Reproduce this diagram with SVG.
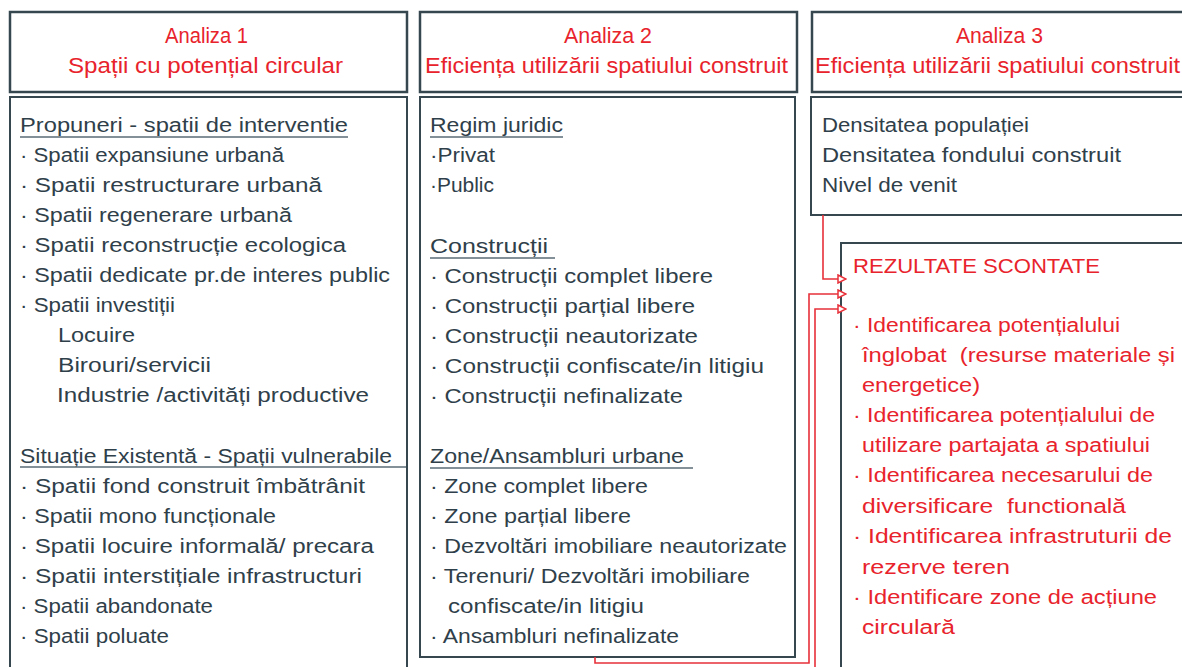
<svg xmlns="http://www.w3.org/2000/svg" width="1182" height="667" viewBox="0 0 1182 667">
<style>
.box{fill:#ffffff;stroke:#36474f;stroke-width:2}
.hbox{fill:#ffffff;stroke:#36474f;stroke-width:2.5}
.t{font-family:"Liberation Sans",Arial,sans-serif;font-size:20px;fill:#2f404a}
.h{font-family:"Liberation Sans",Arial,sans-serif;font-size:22px;fill:#e8232c}
.r{font-family:"Liberation Sans",Arial,sans-serif;font-size:20px;fill:#e8232c}
.ul{stroke:#5a6b75;stroke-width:1.5}
.con{fill:none;stroke:#e8303a;stroke-width:1.6}
</style>
<defs>
<marker id="arr" viewBox="0 0 10 10" refX="9" refY="5" markerWidth="10" markerHeight="10" markerUnits="userSpaceOnUse" orient="auto">
<path d="M1,1 L9,5 L1,9 Z" fill="#ffffff" stroke="#e8303a" stroke-width="1.5"/>
</marker>
</defs>
<rect width="1182" height="667" fill="#ffffff"/>

<g id="header1">
<rect class="hbox" x="10" y="12" width="397" height="80"/>
<text class="h" x="165" y="43" textLength="83" lengthAdjust="spacingAndGlyphs">Analiza 1</text>
<text class="h" x="68" y="73" textLength="275" lengthAdjust="spacingAndGlyphs">Spații cu potențial circular</text>
</g>
<g id="header2">
<rect class="hbox" x="420" y="12" width="377" height="80"/>
<text class="h" x="564" y="43" textLength="88" lengthAdjust="spacingAndGlyphs">Analiza 2</text>
<text class="h" x="425" y="73" textLength="363" lengthAdjust="spacingAndGlyphs">Eficiența utilizării spatiului construit</text>
</g>
<g id="header3">
<rect class="hbox" x="812" y="12" width="390" height="80"/>
<text class="h" x="956" y="43" textLength="87" lengthAdjust="spacingAndGlyphs">Analiza 3</text>
<text class="h" x="815" y="73" textLength="365" lengthAdjust="spacingAndGlyphs">Eficiența utilizării spatiului construit</text>
</g>

<g id="body1">
<rect class="box" x="10" y="97" width="397" height="600"/>
<text class="t" x="20" y="132" textLength="328" lengthAdjust="spacingAndGlyphs">Propuneri - spatii de interventie</text>
<line class="ul" x1="20" y1="137" x2="348" y2="137"/>
<text class="t" x="20" y="162" textLength="264" lengthAdjust="spacingAndGlyphs">· Spatii expansiune urbană</text>
<text class="t" x="20" y="192" textLength="302" lengthAdjust="spacingAndGlyphs">· Spatii restructurare urbană</text>
<text class="t" x="20" y="222" textLength="272" lengthAdjust="spacingAndGlyphs">· Spatii regenerare urbană</text>
<text class="t" x="20" y="252" textLength="326" lengthAdjust="spacingAndGlyphs">· Spatii reconstrucție ecologica</text>
<text class="t" x="20" y="282" textLength="370" lengthAdjust="spacingAndGlyphs">· Spatii dedicate pr.de interes public</text>
<text class="t" x="20" y="312" textLength="155" lengthAdjust="spacingAndGlyphs">· Spatii investiții</text>
<text class="t" x="58" y="342" textLength="77" lengthAdjust="spacingAndGlyphs">Locuire</text>
<text class="t" x="58" y="372" textLength="153" lengthAdjust="spacingAndGlyphs">Birouri/servicii</text>
<text class="t" x="57" y="402" textLength="312" lengthAdjust="spacingAndGlyphs">Industrie /activități productive</text>
<text class="t" x="20" y="463" textLength="372" lengthAdjust="spacingAndGlyphs">Situație Existentă - Spații vulnerabile</text>
<line class="ul" x1="20" y1="467" x2="406" y2="467"/>
<text class="t" x="20" y="493" textLength="345" lengthAdjust="spacingAndGlyphs">· Spatii fond construit îmbătrânit</text>
<text class="t" x="20" y="523" textLength="256" lengthAdjust="spacingAndGlyphs">· Spatii mono funcționale</text>
<text class="t" x="20" y="553" textLength="354" lengthAdjust="spacingAndGlyphs">· Spatii locuire informală/ precara</text>
<text class="t" x="20" y="583" textLength="342" lengthAdjust="spacingAndGlyphs">· Spatii interstițiale infrastructuri</text>
<text class="t" x="20" y="613" textLength="193" lengthAdjust="spacingAndGlyphs">· Spatii abandonate</text>
<text class="t" x="20" y="643" textLength="149" lengthAdjust="spacingAndGlyphs">· Spatii poluate</text>
</g>

<g id="body2">
<rect class="box" x="420" y="97" width="375" height="560"/>
<text class="t" x="430" y="132" textLength="133" lengthAdjust="spacingAndGlyphs">Regim juridic</text>
<line class="ul" x1="430" y1="137" x2="563" y2="137"/>
<text class="t" x="430" y="162" textLength="65" lengthAdjust="spacingAndGlyphs">·Privat</text>
<text class="t" x="430" y="192" textLength="64" lengthAdjust="spacingAndGlyphs">·Public</text>
<text class="t" x="430" y="253" textLength="118" lengthAdjust="spacingAndGlyphs">Construcții</text>
<line class="ul" x1="430" y1="258" x2="555" y2="258"/>
<text class="t" x="430" y="283" textLength="283" lengthAdjust="spacingAndGlyphs">· Construcții complet libere</text>
<text class="t" x="430" y="313" textLength="265" lengthAdjust="spacingAndGlyphs">· Construcții parțial libere</text>
<text class="t" x="430" y="343" textLength="268" lengthAdjust="spacingAndGlyphs">· Construcții neautorizate</text>
<text class="t" x="430" y="373" textLength="334" lengthAdjust="spacingAndGlyphs">· Construcții confiscate/in litigiu</text>
<text class="t" x="430" y="403" textLength="253" lengthAdjust="spacingAndGlyphs">· Construcții nefinalizate</text>
<text class="t" x="430" y="463" textLength="254" lengthAdjust="spacingAndGlyphs">Zone/Ansambluri urbane</text>
<line class="ul" x1="430" y1="468" x2="693" y2="468"/>
<text class="t" x="430" y="493" textLength="218" lengthAdjust="spacingAndGlyphs">· Zone complet libere</text>
<text class="t" x="430" y="523" textLength="201" lengthAdjust="spacingAndGlyphs">· Zone parțial libere</text>
<text class="t" x="430" y="553" textLength="357" lengthAdjust="spacingAndGlyphs">· Dezvoltări imobiliare neautorizate</text>
<text class="t" x="430" y="583" textLength="320" lengthAdjust="spacingAndGlyphs">· Terenuri/ Dezvoltări imobiliare</text>
<text class="t" x="448" y="613" textLength="196" lengthAdjust="spacingAndGlyphs">confiscate/in litigiu</text>
<text class="t" x="430" y="643" textLength="249" lengthAdjust="spacingAndGlyphs">· Ansambluri nefinalizate</text>
</g>

<g id="body3">
<rect class="box" x="811" y="97" width="390" height="118"/>
<text class="t" x="822" y="132" textLength="207" lengthAdjust="spacingAndGlyphs">Densitatea populației</text>
<text class="t" x="822" y="162" textLength="299" lengthAdjust="spacingAndGlyphs">Densitatea fondului construit</text>
<text class="t" x="822" y="192" textLength="135" lengthAdjust="spacingAndGlyphs">Nivel de venit</text>
</g>

<g id="rezultate">
<rect class="box" x="841" y="243" width="360" height="460"/>
<text class="r" x="853" y="273" textLength="247" lengthAdjust="spacingAndGlyphs">REZULTATE SCONTATE</text>
<text class="r" x="853" y="332" textLength="267" lengthAdjust="spacingAndGlyphs">· Identificarea potențialului</text>
<text class="r" x="862" y="362" textLength="313" lengthAdjust="spacingAndGlyphs" xml:space="preserve">înglobat  (resurse materiale și</text>
<text class="r" x="862" y="392" textLength="118" lengthAdjust="spacingAndGlyphs">energetice)</text>
<text class="r" x="853" y="422" textLength="302" lengthAdjust="spacingAndGlyphs">· Identificarea potențialului de</text>
<text class="r" x="862" y="452" textLength="288" lengthAdjust="spacingAndGlyphs">utilizare partajata a spatiului</text>
<text class="r" x="853" y="482" textLength="300" lengthAdjust="spacingAndGlyphs">· Identificarea necesarului de</text>
<text class="r" x="862" y="513" textLength="264" lengthAdjust="spacingAndGlyphs" xml:space="preserve">diversificare  functională</text>
<text class="r" x="853" y="543" textLength="319" lengthAdjust="spacingAndGlyphs">· Identificarea infrastruturii de</text>
<text class="r" x="862" y="574" textLength="148" lengthAdjust="spacingAndGlyphs">rezerve teren</text>
<text class="r" x="853" y="604" textLength="304" lengthAdjust="spacingAndGlyphs">· Identificare zone de acțiune</text>
<text class="r" x="862" y="634" textLength="93" lengthAdjust="spacingAndGlyphs">circulară</text>
</g>

<g id="connectors">
<path class="con" d="M823 215 V279 H846" marker-end="url(#arr)"/>
<path class="con" d="M595 657 V663 H809 V294 H846" marker-end="url(#arr)"/>
<path class="con" d="M815 690 V309 H846" marker-end="url(#arr)"/>
</g>
</svg>
